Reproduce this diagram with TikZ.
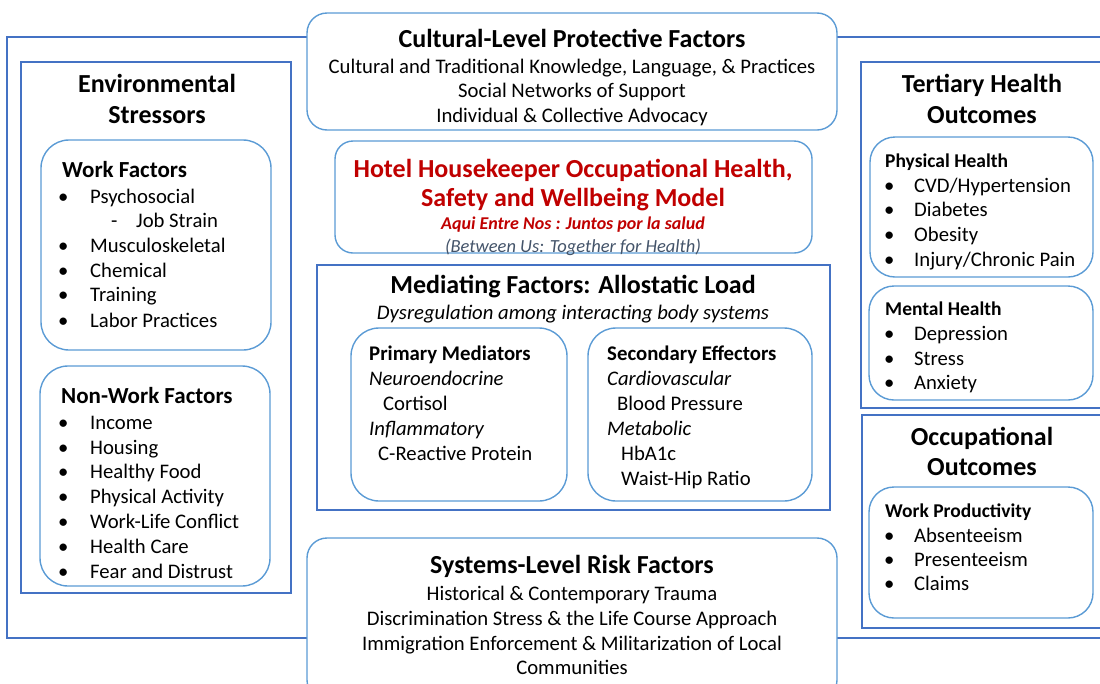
\documentclass[tikz,border=0pt]{standalone}
\usepackage{fontspec}
\setmainfont{Carlito}
\usepackage{xcolor}
\usepackage{tikz}

\definecolor{framecol}{HTML}{4472C4}
\definecolor{boxcol}{HTML}{5B9BD5}
\definecolor{titlered}{HTML}{C00000}
\definecolor{subgray}{HTML}{44546A}

\newcommand{\bul}[1]{\makebox[#1][l]{\textbullet}}

\begin{document}
\begin{tikzpicture}[x=1pt, y=-1pt,
        frame/.style={draw=framecol, line width=1.4pt},
        rbox/.style={draw=boxcol, line width=1.4pt, fill=white, rounded corners=28pt},
        bighead/.style={anchor=base, inner sep=0pt, font=\fontsize{26}{31}\selectfont\bfseries},
        head/.style={anchor=base, inner sep=0pt, font=\fontsize{26}{31}\selectfont\bfseries},
        boxhead/.style={anchor=base west, inner sep=0pt, font=\fontsize{23}{27}\selectfont\bfseries},
        smallhead/.style={anchor=base west, inner sep=0pt, font=\fontsize{19.5}{24}\selectfont\bfseries},
        txtline/.style={anchor=base, inner sep=0pt, font=\fontsize{20.7}{25}\selectfont},
        listitem/.style={anchor=base west, inner sep=0pt, font=\fontsize{20.7}{25}\selectfont}]
        \useasboundingbox (0,0) rectangle (1100,683);

        % Outer frame
        \draw[frame] (7,37) rectangle (1110,638);

        % Environmental stressors
        \draw[frame] (21,62) rectangle (291,593);
        \node[bighead] (env1) at (157,92) {Environmental};
        \node[bighead] (env2) at (157,123) {Stressors};

        \draw[rbox] (41,140) rectangle (271,350);
        \node[boxhead] (work) at (62,177) {Work Factors};
        \node[listitem] (work1) at (58,203) {\bul{32pt}Psychosocial};
        \node[listitem] (work2) at (111,227.5) {\makebox[25pt][l]{-}Job Strain};
        \node[listitem] (work3) at (58,252) {\bul{32pt}Musculoskeletal};
        \node[listitem] (work4) at (58,277) {\bul{32pt}Chemical};
        \node[listitem] (work5) at (58,301.5) {\bul{32pt}Training};
        \node[listitem] (work6) at (58,327) {\bul{32pt}Labor Practices};

        \draw[rbox] (40,366) rectangle (270,586);
        \node[boxhead] (nonwork) at (61,403) {Non-Work Factors};
        \node[listitem] (nonwork1) at (58,429) {\bul{32pt}Income};
        \node[listitem] (nonwork2) at (58,454) {\bul{32pt}Housing};
        \node[listitem] (nonwork3) at (58,478.5) {\bul{32pt}Healthy Food};
        \node[listitem] (nonwork4) at (58,503) {\bul{32pt}Physical Activity};
        \node[listitem] (nonwork5) at (58,528) {\bul{32pt}Work-Life Conflict};
        \node[listitem] (nonwork6) at (58,553) {\bul{32pt}Health Care};
        \node[listitem] (nonwork7) at (58,578) {\bul{32pt}Fear and Distrust};

        % Cultural-level protective factors
        \draw[rbox, rounded corners=20pt] (307,13) rectangle (837,130);
        \node[head] (cult) at (572,47) {Cultural-Level Protective Factors};
        \node[txtline] (cult1) at (572,73) {Cultural and Traditional Knowledge, Language, \& Practices};
        \node[txtline] (cult2) at (572,97.5) {Social Networks of Support};
        \node[txtline] (cult3) at (572,122) {Individual \& Collective Advocacy};

        % Model title
        \draw[rbox, rounded corners=18pt] (335,141) rectangle (812,253);
        \node[head, text=titlered] (model1) at (573,177) {Hotel Housekeeper Occupational Health,};
        \node[head, text=titlered] (model2) at (573,206) {Safety and Wellbeing Model};
        \node[txtline, text=titlered, font=\fontsize{18}{21}\selectfont\bfseries\itshape] (model3) at (573,229) {Aqui Entre Nos : Juntos por la salud};
        \node[txtline, text=subgray, font=\fontsize{18.5}{21}\selectfont\itshape] (model4) at (573,252) {(Between Us: Together for Health)};

        % Mediating factors
        \draw[frame] (317,265) rectangle (830,510);
        \node[head] (med) at (573,293) {Mediating Factors: Allostatic Load};
        \node[txtline, font=\fontsize{20.7}{25}\selectfont\itshape] (med1) at (573,319) {Dysregulation among interacting body systems};

        \draw[rbox] (351,328) rectangle (567,501);
        \node[smallhead, font=\fontsize{20.8}{25}\selectfont\bfseries] (prim) at (369,360) {Primary Mediators};
        \node[listitem, font=\fontsize{20.7}{25}\selectfont\itshape] (prim1) at (369,385) {Neuroendocrine};
        \node[listitem] (prim2) at (383,410) {Cortisol};
        \node[listitem, font=\fontsize{20.7}{25}\selectfont\itshape] (prim3) at (369,435) {Inflammatory};
        \node[listitem] (prim4) at (378,460) {C-Reactive Protein};

        \draw[rbox] (588,328) rectangle (812,501);
        \node[smallhead, font=\fontsize{20.8}{25}\selectfont\bfseries] (sec) at (607,360) {Secondary Effectors};
        \node[listitem, font=\fontsize{20.7}{25}\selectfont\itshape] (sec1) at (607,385) {Cardiovascular};
        \node[listitem] (sec2) at (617,410) {Blood Pressure};
        \node[listitem, font=\fontsize{20.7}{25}\selectfont\itshape] (sec3) at (607,435) {Metabolic};
        \node[listitem] (sec4) at (621,460) {HbA1c};
        \node[listitem] (sec5) at (621,485) {Waist-Hip Ratio};

        % Systems-level risk factors
        \draw[rbox, rounded corners=20pt] (307,538) rectangle (837,700);
        \node[head] (sys) at (572,573) {Systems-Level Risk Factors};
        \node[txtline] (sys1) at (572,600) {Historical \& Contemporary Trauma};
        \node[txtline] (sys2) at (572,625) {Discrimination Stress \& the Life Course Approach};
        \node[txtline] (sys3) at (572,650) {Immigration Enforcement \& Militarization of Local};
        \node[txtline] (sys4) at (572,674) {Communities};

        % Tertiary health outcomes
        \draw[frame] (861,62) rectangle (1110,408);
        \node[bighead] (tert1) at (982,92) {Tertiary Health};
        \node[bighead] (tert2) at (982,123) {Outcomes};

        \draw[rbox, rounded corners=25pt] (870,137) rectangle (1093,277);
        \node[smallhead] (phys) at (885,167) {Physical Health};
        \node[listitem] (phys1) at (884,192) {\bul{30pt}CVD/Hypertension};
        \node[listitem] (phys2) at (884,216.5) {\bul{30pt}Diabetes};
        \node[listitem] (phys3) at (884,241) {\bul{30pt}Obesity};
        \node[listitem] (phys4) at (884,266) {\bul{30pt}Injury/Chronic Pain};

        \draw[rbox, rounded corners=25pt] (869,286) rectangle (1093,400);
        \node[smallhead] (ment) at (885,315) {Mental Health};
        \node[listitem] (ment1) at (884,340) {\bul{30pt}Depression};
        \node[listitem] (ment2) at (884,365) {\bul{30pt}Stress};
        \node[listitem] (ment3) at (884,389) {\bul{30pt}Anxiety};

        % Occupational outcomes
        \draw[frame] (862,415) rectangle (1110,628);
        \node[bighead] (occ1) at (982,445) {Occupational};
        \node[bighead] (occ2) at (982,475) {Outcomes};

        \draw[rbox, rounded corners=25pt] (869,487) rectangle (1093,618);
        \node[smallhead] (prod) at (885,517) {Work Productivity};
        \node[listitem] (prod1) at (884,542) {\bul{30pt}Absenteeism};
        \node[listitem] (prod2) at (884,566) {\bul{30pt}Presenteeism};
        \node[listitem] (prod3) at (884,590) {\bul{30pt}Claims};
    \end{tikzpicture}
\end{document}
